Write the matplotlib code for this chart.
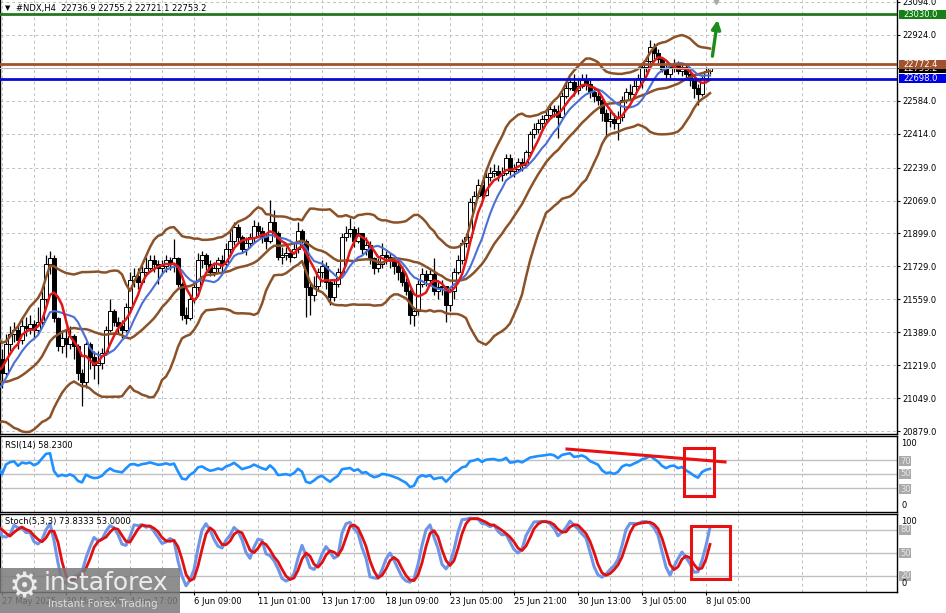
import numpy as np
import pandas as pd
import matplotlib
matplotlib.use('Agg')
import matplotlib.pyplot as plt
from matplotlib.patches import Rectangle
from matplotlib import transforms

plt.rcParams['font.family'] = ['DejaVu Sans']
plt.rcParams['font.size'] = 6

# ---- data: #NDX H4 ----
# a few bars before the left edge, only used to warm up the indicators
pre_closes = [21330, 21300, 21270, 21240, 21210, 21160, 21120, 21090, 21060, 21030,
              20990, 20960, 20990, 21020, 21060, 21100, 21150, 21210, 21240, 21250]
pre_highs = [21380, 21350, 21320, 21290, 21260, 21220, 21170, 21140, 21110, 21080,
             21040, 21010, 21030, 21060, 21100, 21140, 21190, 21250, 21280, 21290]
pre_lows = [21280, 21250, 21220, 21190, 21150, 21110, 21070, 21040, 21010, 20980,
            20940, 20910, 20940, 20970, 21010, 21050, 21100, 21160, 21190, 21200]
first_open = 21360

closes = [
    21180, 21330, 21380, 21400, 21350, 21420, 21410, 21430, 21400, 21440,
    21560, 21740, 21770, 21460, 21320, 21360, 21330, 21370, 21320, 21180,
    21130, 21330, 21260, 21220, 21230, 21280, 21400, 21500, 21440, 21420,
    21400, 21520, 21660, 21680, 21650, 21700, 21720, 21760, 21740, 21720,
    21730, 21760, 21740, 21770, 21640, 21480, 21460, 21560, 21620, 21760,
    21790, 21740, 21700, 21720, 21760, 21740, 21820, 21860, 21930, 21880,
    21820, 21850, 21880, 21940, 21910, 21880, 21860, 21960, 21900, 21780,
    21790, 21800, 21780, 21820, 21910, 21860, 21620, 21580, 21630, 21700,
    21730, 21650, 21570, 21640, 21700, 21880, 21900, 21920, 21860, 21900,
    21820, 21840, 21770, 21720, 21740, 21790, 21780, 21760, 21730, 21700,
    21650, 21600, 21480, 21500, 21640, 21690, 21660, 21690, 21600, 21620,
    21630, 21530, 21600, 21700, 21760, 21850, 21880, 22060, 22090, 22150,
    22100, 22190, 22210, 22220, 22200, 22210, 22290, 22220, 22230, 22270,
    22250, 22320, 22410, 22440, 22470, 22490, 22510, 22540, 22530, 22500,
    22610, 22650, 22680, 22640, 22660, 22690, 22670, 22630, 22610, 22590,
    22520, 22480, 22490, 22470, 22500, 22590, 22630, 22620, 22660, 22700,
    22760, 22790, 22860, 22830, 22800, 22750, 22720, 22760, 22770, 22740,
    22760, 22720, 22690, 22650, 22620, 22700, 22737, 22753.2]
highs = [
    21300, 21380, 21420, 21440, 21420, 21460, 21470, 21480, 21450, 21520,
    21600, 21790, 21810, 21790, 21470, 21400, 21400, 21420, 21380, 21330,
    21200, 21340, 21340, 21290, 21290, 21310, 21420, 21560, 21510, 21470,
    21450, 21540, 21700, 21720, 21720, 21730, 21780, 21790, 21790, 21760,
    21760, 21790, 21780, 21870, 21780, 21650, 21520, 21580, 21640, 21800,
    21810, 21800, 21760, 21750, 21780, 21790, 21850, 21910, 21960, 21950,
    21890, 21880, 21900, 21970, 21960, 21930, 21900, 22070, 22020, 21910,
    21830, 21830, 21820, 21850, 21960, 21920, 21870, 21650, 21680, 21720,
    21760, 21750, 21660, 21660, 21720, 21900, 21940, 21980, 21940, 21930,
    21900, 21880, 21860, 21780, 21770, 21850, 21810, 21800, 21780, 21760,
    21730, 21670, 21610, 21520, 21660, 21720, 21710, 21720, 21770, 21660,
    21660, 21630, 21620, 21720, 21790, 21870, 21900, 22080, 22120, 22180,
    22170, 22220, 22240, 22260, 22250, 22240, 22310, 22310, 22260, 22290,
    22290, 22330, 22430, 22470, 22490, 22510, 22540, 22570, 22560, 22560,
    22630, 22680, 22700, 22720, 22700, 22720, 22720, 22700, 22650, 22630,
    22600, 22540, 22530, 22520, 22530, 22610, 22650, 22670, 22690, 22720,
    22780, 22810, 22900, 22880, 22850, 22810, 22770, 22780, 22800, 22790,
    22780, 22770, 22750, 22700, 22670, 22710, 22760, 22755.2]
lows = [
    21100, 21170, 21290, 21340, 21300, 21330, 21370, 21380, 21360, 21380,
    21420, 21540, 21690, 21440, 21290, 21280, 21260, 21300, 21250, 21140,
    21010, 21100, 21200, 21150, 21120, 21200, 21270, 21390, 21420, 21380,
    21360, 21390, 21500, 21620, 21610, 21640, 21680, 21700, 21700, 21640,
    21690, 21700, 21710, 21700, 21620, 21450, 21430, 21450, 21540, 21600,
    21720, 21710, 21680, 21680, 21700, 21700, 21720, 21800, 21840, 21850,
    21800, 21790, 21830, 21850, 21880, 21850, 21820, 21850, 21880, 21760,
    21740, 21760, 21750, 21770, 21800, 21830, 21470, 21480, 21550, 21600,
    21670, 21610, 21530, 21550, 21620, 21690, 21860, 21880, 21830, 21850,
    21790, 21790, 21740, 21690, 21700, 21720, 21740, 21720, 21690, 21660,
    21630, 21580, 21430, 21420, 21480, 21620, 21630, 21640, 21580, 21560,
    21580, 21440, 21500, 21560, 21690, 21740, 21830, 21870, 22040, 22080,
    22060, 22090, 22170, 22190, 22170, 22170, 22200, 22200, 22190, 22220,
    22220, 22240, 22310, 22390, 22420, 22430, 22470, 22490, 22500, 22390,
    22490, 22600, 22640, 22610, 22620, 22650, 22640, 22600, 22580, 22560,
    22480, 22390, 22450, 22440, 22380, 22480, 22570, 22590, 22610, 22650,
    22650, 22730, 22770, 22800, 22770, 22730, 22690, 22700, 22730, 22720,
    22710, 22690, 22660, 22600, 22560, 22610, 22690, 22721.1]

time_labels = ["27 May 2025", "30 May 13:00", "4 Jun 17:00", "6 Jun 09:00", "11 Jun 01:00",
               "13 Jun 17:00", "18 Jun 09:00", "23 Jun 05:00", "25 Jun 21:00",
               "30 Jun 13:00", "3 Jul 05:00", "8 Jul 05:00"]
price_ticks = [23094, 22924, 22754, 22584, 22414, 22239, 22069, 21899,
               21729, 21559, 21389, 21219, 21049, 20879]

level_target = 23030.0
level_res = 22772.4
level_sup = 22698.0
bid = 22753.2

# ---- indicators ----
c = pd.Series(pre_closes + closes, dtype=float)
h = pd.Series(pre_highs + highs, dtype=float)
l = pd.Series(pre_lows + lows, dtype=float)
o = pd.Series([first_open] + list(c[:-1]), dtype=float)
o.iloc[-1] = 22736.9
xs = np.arange(len(c)) - len(pre_closes)

ma_fast = c.rolling(5, min_periods=1).mean()
ma_slow = c.rolling(10, min_periods=1).mean()
bb_mid = c.rolling(20, min_periods=1).mean()
bb_sd = c.rolling(20, min_periods=1).std(ddof=0)
bb_up = bb_mid + 2 * bb_sd
bb_lo = bb_mid - 2 * bb_sd

delta = c.diff().fillna(0)
gain = delta.clip(lower=0).ewm(alpha=1 / 14, adjust=False).mean()
loss = (-delta.clip(upper=0)).ewm(alpha=1 / 14, adjust=False).mean()
rsi = 100 - 100 / (1 + gain / loss.replace(0, np.nan))
rsi = rsi.fillna(50)

ll = l.rolling(5, min_periods=1).min()
hh = h.rolling(5, min_periods=1).max()
st_k = (c - ll).rolling(3, min_periods=1).sum() / (hh - ll).rolling(3, min_periods=1).sum() * 100
st_d = st_k.rolling(3, min_periods=1).mean()

# ---- figure layout (pixel based, like the terminal window) ----
W, H = 946, 613
fig = plt.figure(figsize=(W / 100, H / 100), dpi=100, facecolor='white')


def rect(x0, y0, x1, y1):
    return [x0 / W, 1 - y1 / H, (x1 - x0) / W, (y1 - y0) / H]


ax = fig.add_axes(rect(0, 0, 897, 434))
ax2 = fig.add_axes(rect(0, 436, 897, 512))
ax3 = fig.add_axes(rect(0, 514, 897, 592))

XMIN, XMAX = -0.5, 223.75
grid_kw = dict(color='#c0c0c0', lw=0.7, ls=(0, (3, 3)))
major_x = np.arange(0, 177, 16)
minor_x = np.arange(8, 224, 16)
for a in (ax, ax2, ax3):
    a.set_xlim(XMIN, XMAX)
    a.set_xticks(major_x)
    a.set_xticks(minor_x, minor=True)
    a.grid(axis='x', which='both', **grid_kw)
    a.set_axisbelow(True)
    for s in a.spines.values():
        s.set_color('black')
        s.set_linewidth(1)
    a.tick_params(axis='x', which='both', length=0, labelbottom=False)
ax.spines['top'].set_visible(False)

# main price window
ax.set_ylim(20863.6, 23104.3)
ax.yaxis.tick_right()
ax.set_yticks(price_ticks)
# the 22754 label sits under the coloured price boxes, so it is left blank
ax.set_yticklabels(["" if p == 22754 else f"{p:.1f}" for p in price_ticks])
ax.tick_params(axis='y', length=2, width=0.8, pad=2, labelsize=6)
ax.grid(axis='y', **grid_kw)

up = c >= o
body_lo = np.minimum(o, c)
body_h = np.maximum(np.abs(c - o), 3)
ax.vlines(xs, np.minimum(l, body_lo), np.maximum(h, np.maximum(o, c)), color='black', lw=0.9, zorder=2)
ax.bar(xs[up], body_h[up], bottom=body_lo[up], width=0.78, color='white',
       edgecolor='black', linewidth=0.7, zorder=3)
ax.bar(xs[~up], body_h[~up], bottom=body_lo[~up], width=0.78, color='black',
       edgecolor='black', linewidth=0.7, zorder=3)

brown = '#8b5228'
ax.plot(xs, bb_up, color=brown, lw=1.8, zorder=4)
ax.plot(xs, bb_mid, color=brown, lw=1.8, zorder=4)
ax.plot(xs, bb_lo, color=brown, lw=1.8, zorder=4)
ax.plot(xs, ma_slow, color='#4a6fd6', lw=1.5, zorder=5)
ax.plot(xs, ma_fast, color='#e01818', lw=1.8, zorder=6)

ax.axhline(bid, color='#b8b8b8', lw=0.8, zorder=6)
ax.axhline(level_target, color='#217821', lw=2, zorder=7)
ax.axhline(level_res, color='#a0522d', lw=2, zorder=7)
ax.axhline(level_sup, color='#0a0ad8', lw=2, zorder=7)

ax.annotate('', xy=(179.0, 23016), xytext=(177.5, 22800),
            arrowprops=dict(arrowstyle='-|>', color='#1c8c1c', lw=2.4, mutation_scale=13),
            zorder=8)
ax.plot([178.5], [23098], marker='v', color='#a8a8a8', ms=5, clip_on=False, zorder=8)

# price labels on the right scale
blend = transforms.blended_transform_factory(fig.transFigure, ax.transData)
box_h = 9 * 5.163
for price, face, z in [(bid, 'black', 10), (level_res, '#a0522d', 11),
                       (level_sup, '#0000e6', 11), (level_target, '#158015', 11)]:
    fig.add_artist(Rectangle((899 / W, price - box_h / 2), 47 / W, box_h, transform=blend,
                             facecolor=face, edgecolor='none', zorder=z))
    fig.text(903 / W, price, f"{price:.1f}", transform=blend, color='white',
             va='center', ha='left', fontsize=6, zorder=z + 0.5)

fig.text(5 / W, 1 - 8 / H, "\u25bc", fontsize=5, va='center', ha='left')
fig.text(16 / W, 1 - 8 / H, "#NDX,H4  22736.9 22755.2 22721.1 22753.2",
         fontsize=6, va='center', ha='left')

# RSI window
ax2.set_ylim(-3.6, 105)
ax2.set_yticks([])
for lev in (70, 50, 30):
    ax2.axhline(lev, color='#c0c0c0', lw=1, zorder=1)
ax2.plot(xs, rsi, color='#1e90ff', lw=1.9, zorder=3)
ax2.plot([141.25, 180.75], [86.4, 67.9], color='#e81010', lw=2.2, zorder=4)
ax2.add_patch(Rectangle((170.5, 19.3), 7.5, 68.6, fill=False, edgecolor='#e81010',
                        lw=2.2, zorder=5))
ax2.text(5 / 897, 0.88, "RSI(14) 58.2300", transform=ax2.transAxes, fontsize=6,
         va='center', ha='left')

# Stochastic window
ax3.set_ylim(-0.85, 100.9)
ax3.set_yticks([])
for lev in (80, 50, 20):
    ax3.axhline(lev, color='#c0c0c0', lw=1, zorder=1)
ax3.plot(xs, st_k, color='#6f95e8', lw=2.2, zorder=3)
ax3.plot(xs, st_d, color='#e01010', lw=2.0, zorder=4)
ax3.add_patch(Rectangle((172.25, 16.1), 9.75, 69.1, fill=False, edgecolor='#e81010',
                        lw=2.2, zorder=5))
ax3.text(5 / 897, 0.9, "Stoch(5,3,3) 73.8333 53.0000", transform=ax3.transAxes,
         fontsize=6, va='center', ha='left')

ax3.tick_params(axis='x', which='major', length=2, width=0.8, pad=1.5,
                labelbottom=True, labelsize=6)
ax3.set_xticklabels(time_labels)
for t in ax3.get_xticklabels():
    t.set_ha('left')

# level labels of the oscillator windows
for y, txt, boxed in [(444, "100", False), (461, "70", True), (474, "50", True),
                      (489, "30", True), (505, "0", False),
                      (521, "100", False), (530, "80", True), (553, "50", True),
                      (576, "20", True), (584, "0", False)]:
    if boxed:
        fig.text(900 / W, 1 - y / H, txt, fontsize=6, va='center', ha='left', color='#e8e8e8',
                 bbox=dict(facecolor='#a9a9a9', edgecolor='none', pad=0.6))
    else:
        fig.text(901 / W, 1 - y / H, txt, fontsize=6, va='center', ha='left', color='black')

# broker watermark
fig.add_artist(Rectangle((0, 0), 180 / W, 45 / H, transform=fig.transFigure,
                         facecolor='#7a7a7a', alpha=0.85, edgecolor='none', zorder=20))
fig.text(24 / W, 1 - 587 / H, "\u2699", fontsize=25, color='#ececec', va='center',
         ha='center', zorder=21)
fig.text(44 / W, 1 - 583 / H, "instaforex", fontsize=18, color='#ececec', va='center',
         ha='left', zorder=21)
fig.text(48 / W, 1 - 604 / H, "Instant Forex Trading", fontsize=7.5, color='#dcdcdc',
         va='center', ha='left', zorder=21)

fig.savefig('out.png', dpi=100, facecolor='white')
